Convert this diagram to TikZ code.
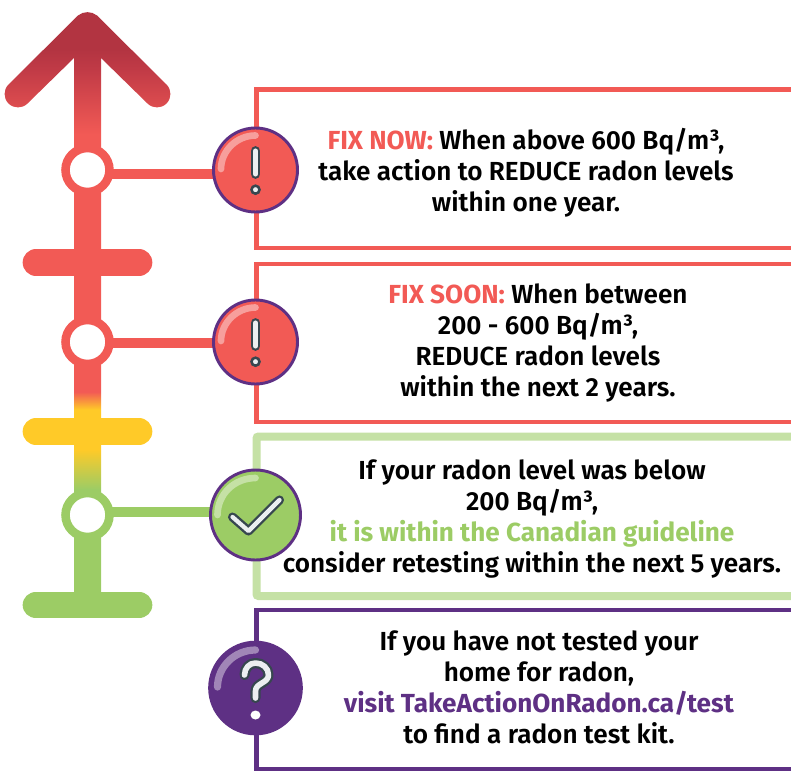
\documentclass[tikz,border=0pt]{standalone}
\usepackage{fontspec}
\setmainfont{Fira Sans SemiBold}[BoldFont={Fira Sans Bold}]
\usetikzlibrary{backgrounds}
\definecolor{fixred}{HTML}{F25A55}
\definecolor{deepred}{HTML}{B23441}
\definecolor{midred}{HTML}{C03A46}
\definecolor{amber}{HTML}{FFCA28}
\definecolor{okgreen}{HTML}{9CCC65}
\definecolor{palegreen}{HTML}{C5E1A5}
\definecolor{plum}{HTML}{5E3084}
\definecolor{slate}{HTML}{37474F}
\definecolor{paper}{HTML}{ECEFF1}
\pgfdeclareverticalshading{riser}{100bp}{color(0bp)=(okgreen); color(25bp)=(okgreen); color(34.4bp)=(okgreen); color(37.8bp)=(amber); color(41.2bp)=(amber); color(42.7bp)=(fixred); color(64.6bp)=(fixred); color(70.2bp)=(midred); color(71.9bp)=(deepred); color(100bp)=(deepred)}
\tikzset{
  x=0.75pt,y=-0.75pt,
  ringnode/.style={circle,fill=white,draw=#1,line width=6.4pt,minimum size=33pt,inner sep=0pt},
  iconnode/.style={circle,fill=#1,inner sep=0pt},
  linkline/.style={draw=#1,line width=7.5pt},
  frameline/.style={draw=#1,line width=3.4pt},
  crossbar/.style={draw=#1,line width=20pt,line cap=round},
  glossline/.style={draw=white,opacity=.42,line width=5pt,line cap=round},
  bodytext/.style={align=center,font=\fontsize{19.6pt}{23.25pt}\selectfont,inner sep=0pt,text=black},
  darkline/.style={draw=slate,line width=6.8pt,line cap=round,line join=round},
  paperline/.style={draw=paper,line width=3.2pt,line cap=round,line join=round},
}
\begin{document}
\begin{tikzpicture}
\useasboundingbox (0,0) rectangle (791,771);
% riser with gradient
\begin{scope}
\clip (8.5,84.5) .. controls (3.25,89.75) and (3.25,98.25) .. (8.5,103.5)
  .. controls (13.75,108.75) and (22.25,108.75) .. (27.5,103.5)
  -- (74,58) -- (74,600) -- (101,600) -- (101,58)
  -- (147.5,103.5) .. controls (152.75,108.75) and (161.25,108.75) .. (166.5,103.5)
  .. controls (171.75,98.25) and (171.75,89.75) .. (166.5,84.5)
  -- (97,15.5) .. controls (91.5,11) and (83.5,11) .. (78,15.5) -- cycle;
\shade[shading=riser] (0,12) rectangle (175,600);
\end{scope}
\draw[crossbar=fixred] (36,262.5) -- (139,262.5);
\draw[crossbar=amber] (36,431.5) -- (139,431.5);
\draw[crossbar=okgreen] (36,605) -- (139,605);
% rings
\node[ringnode=fixred] (ring1) at (87.5,170) {};
\node[ringnode=fixred] (ring2) at (87.5,342) {};
\node[ringnode=okgreen] (ring3) at (87.5,515) {};
% icons
\node[iconnode=fixred,draw=plum,line width=2.2pt,minimum size=63pt] (icon1) at (255.5,170) {};
\node[iconnode=fixred,draw=plum,line width=2.2pt,minimum size=63pt] (icon2) at (255.5,342) {};
\node[iconnode=okgreen,draw=plum,line width=2.2pt,minimum size=67.5pt] (icon3) at (255.5,515) {};
\node[iconnode=plum,minimum size=71pt] (icon4) at (255.5,688) {};
% frames and links under everything
\begin{pgfonlayer}{background}
\draw[frameline=fixred] (791,89.5) -- (256.5,89.5) -- (256.5,248) -- (791,248);
\draw[frameline=fixred] (791,264) -- (256.5,264) -- (256.5,422) -- (791,422);
\draw[draw=palegreen,line width=6pt,rounded corners=1.5pt] (791,436.5) -- (256.5,436.5) -- (256.5,596) -- (791,596);
\draw[frameline=plum] (791,610) -- (256.5,610) -- (256.5,769) -- (791,769);
\draw[linkline=fixred] ([shift={(-4pt,-3pt)}]ring1.east) -- ([shift={(4pt,-3pt)}]icon1.west);
\draw[linkline=fixred] ([shift={(-4pt,-0.8pt)}]ring2.east) -- ([shift={(4pt,-0.8pt)}]icon2.west);
\draw[linkline=okgreen] ([shift={(-4pt,2.3pt)}]ring3.east) -- ([shift={(4pt,2.3pt)}]icon3.west);
\end{pgfonlayer}
% exclamation icons
\foreach \ic in {icon1,icon2}{
\begin{scope}[shift={(\ic.center)}]
\draw[glossline] (0,-34.5) .. controls (-19,-34.5) and (-34.5,-19) .. (-34.5,-1);
\draw[draw=slate,line width=7.3pt,line cap=round] (0,-19) -- (0,4);
\draw[draw=paper,line width=3.8pt,line cap=round] (0,-19) -- (0,4);
\fill[paper,draw=slate,line width=1.9pt] (0,19.7) circle[radius=4];
\end{scope}}
% check icon
\begin{scope}[shift={(icon3.center)}]
\draw[glossline] (0,-37) .. controls (-21,-37) and (-38,-21) .. (-38,0);
\draw[darkline] (-23,2) -- (-7,16) -- (24,-15);
\draw[paperline] (-23,2) -- (-7,16) -- (24,-15);
\end{scope}
% question icon
\begin{scope}[shift={(icon4.center)}]
\draw[glossline,line width=5.4pt] (0,-38) .. controls (-21,-38) and (-38,-21) .. (-38,-1);
\draw[darkline,line width=7.6pt] (-11,-13) .. controls (-11,-20) and (-6,-25) .. (0,-25) .. controls (7,-25) and (13,-20) .. (13,-13) .. controls (13,-5) and (0,-5) .. (0,3) -- (0,10);
\draw[paperline,line width=4.2pt] (-11,-13) .. controls (-11,-20) and (-6,-25) .. (0,-25) .. controls (7,-25) and (13,-20) .. (13,-13) .. controls (13,-5) and (0,-5) .. (0,3) -- (0,10);
\fill[white] (0,27) ellipse[x radius=5,y radius=4.5];
\end{scope}
% texts
\node[bodytext] (text1) at (526,173) {\textcolor{fixred}{\textbf{FIX NOW:}} When above 600 Bq/m³,\\take action to REDUCE radon levels\\within one year.};
\node[bodytext] (text2) at (538,342.5) {\textcolor{fixred}{\textbf{FIX SOON:}} When between\\200 - 600 Bq/m³,\\REDUCE radon levels\\within the next 2 years.};
\node[bodytext] (text3) at (532,519) {If your radon level was below\\200 Bq/m³,\\\textcolor{okgreen}{\textbf{it is within the Canadian guideline}}\\consider retesting within the next 5 years.};
\node[bodytext] (text4) at (539,687.5) {If you have not tested your\\home for radon,\\\textcolor{plum}{\textbf{visit TakeActionOnRadon.ca/test}}\\to find a radon test kit.};
\end{tikzpicture}
\end{document}
